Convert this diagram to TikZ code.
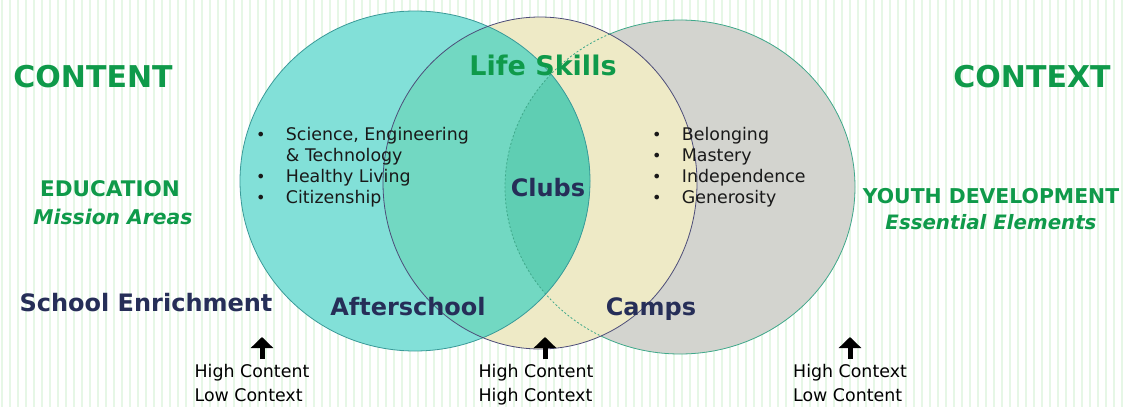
\documentclass[tikz,border=0pt]{standalone}
\usepackage{fontspec}
\setmainfont{DejaVu Sans}
\usetikzlibrary{arrows.meta}

\definecolor{leafgreen}{HTML}{0F9A4A}
\definecolor{navytext}{HTML}{262E58}
\definecolor{tealfill}{HTML}{82E0D8}
\definecolor{mixfill}{HTML}{72D8C2}
\definecolor{corefill}{HTML}{5FCEB3}
\definecolor{beigefill}{HTML}{EEEAC6}
\definecolor{grayfill}{HTML}{D3D4CF}
\definecolor{stripe}{HTML}{E6F7E6}
\definecolor{tealline}{HTML}{3A9A98}
\definecolor{navyline}{HTML}{4C4C78}
\definecolor{grayline}{HTML}{3FA88A}

\newcommand{\dotitem}{{\fontsize{16}{16}\selectfont\textbullet}}

\tikzset{
  heading/.style={text=leafgreen, font=\bfseries\fontsize{30}{30}\selectfont},
  subhead/.style={text=leafgreen, font=\bfseries\fontsize{21.5}{24}\selectfont},
  setting/.style={text=navytext, font=\bfseries\fontsize{24}{24}\selectfont},
  bullets/.style={anchor=base west, inner sep=0pt, text=black!90, font=\fontsize{17.4}{21}\selectfont},
  note/.style={align=left, inner sep=0pt, font=\fontsize{17.4}{24}\selectfont},
  uparrow/.style={line width=5pt, -{Triangle[width=22pt,length=11pt]}, shorten <=5pt},
}

\begin{document}
\begin{tikzpicture}[x=1pt, y=-1pt]
    \useasboundingbox (0,0) rectangle (1124,407);
    % Striped backdrop
    \fill[white] (0,0) rectangle (1124,407);
    \foreach \x in {2,10,...,1124}
        \draw[stripe, line width=2pt] (\x,0) -- (\x,407);

    % The three rings
    \draw[grayline, fill=grayfill, line width=0.8pt] (680,187) ellipse [x radius=175, y radius=167];
    \fill[beigefill] (540,183) ellipse [x radius=157, y radius=166];
    \fill[tealfill] (415,181) ellipse [x radius=175, y radius=170];
    \begin{scope}
        \clip (415,181) ellipse [x radius=175, y radius=170];
        \fill[mixfill] (540,183) ellipse [x radius=157, y radius=166];
        \clip (540,183) ellipse [x radius=157, y radius=166];
        \fill[corefill] (680,187) ellipse [x radius=175, y radius=167];
    \end{scope}
    \begin{scope}
        \clip (540,183) ellipse [x radius=157, y radius=166];
        \draw[grayline, line width=0.8pt, dash pattern=on 2pt off 2pt] (680,187) ellipse [x radius=175, y radius=167];
    \end{scope}
    \draw[tealline, line width=0.8pt] (415,181) ellipse [x radius=175, y radius=170];
    \draw[navyline, line width=0.8pt] (540,183) ellipse [x radius=157, y radius=166];

    % Headings
    \node[heading] (content) at (93,77) {CONTENT};
    \node[heading] (context) at (1032,77) {CONTEXT};
    \node[text=leafgreen, font=\bfseries\fontsize{27}{27}\selectfont] (lifeskills) at (543,65) {Life Skills};
    \node[subhead] (education) at (110,189) {EDUCATION};
    \node[text=leafgreen, font=\bfseries\itshape\fontsize{20.3}{22}\selectfont] (mission) at (113,217) {Mission Areas};
    \node[text=leafgreen, font=\bfseries\fontsize{20.4}{24}\selectfont] (youth) at (991,196) {YOUTH DEVELOPMENT};
    \node[text=leafgreen, font=\bfseries\itshape\fontsize{19.8}{24}\selectfont] (elements) at (991,222) {Essential Elements};

    % Lists inside the rings
    \node[bullets] (areas) at (256,140) {\begin{tabular}[t]{@{}l@{\hspace{20.3pt}}l@{}}
        \dotitem & Science, Engineering\\
                 & \& Technology\\
        \dotitem & Healthy Living\\
        \dotitem & Citizenship
    \end{tabular}};
    \node[bullets] (elemlist) at (652,140) {\begin{tabular}[t]{@{}l@{\hspace{20.3pt}}l@{}}
        \dotitem & Belonging\\
        \dotitem & Mastery\\
        \dotitem & Independence\\
        \dotitem & Generosity
    \end{tabular}};

    % Settings
    \node[setting] (clubs) at (548,188) {Clubs};
    \node[setting] (school) at (146,303) {School Enrichment};
    \node[setting] (afterschool) at (408,307) {Afterschool};
    \node[setting] (camps) at (651,309) {Camps};

    % Content / context balance
    \node[note] (noteA) at (252,383) {High Content\\Low Context};
    \node[note] (noteB) at (536,385) {High Content\\High Context};
    \node[note] (noteC) at (850,383) {High Context\\Low Content};
    \coordinate (tipA) at (262,337);
    \coordinate (tipB) at (545,337);
    \coordinate (tipC) at (850,337);
    \draw[uparrow] (noteA.north -| tipA) -- (tipA);
    \draw[uparrow] (noteB.north -| tipB) -- (tipB);
    \draw[uparrow] (noteC.north -| tipC) -- (tipC);
\end{tikzpicture}
\end{document}
